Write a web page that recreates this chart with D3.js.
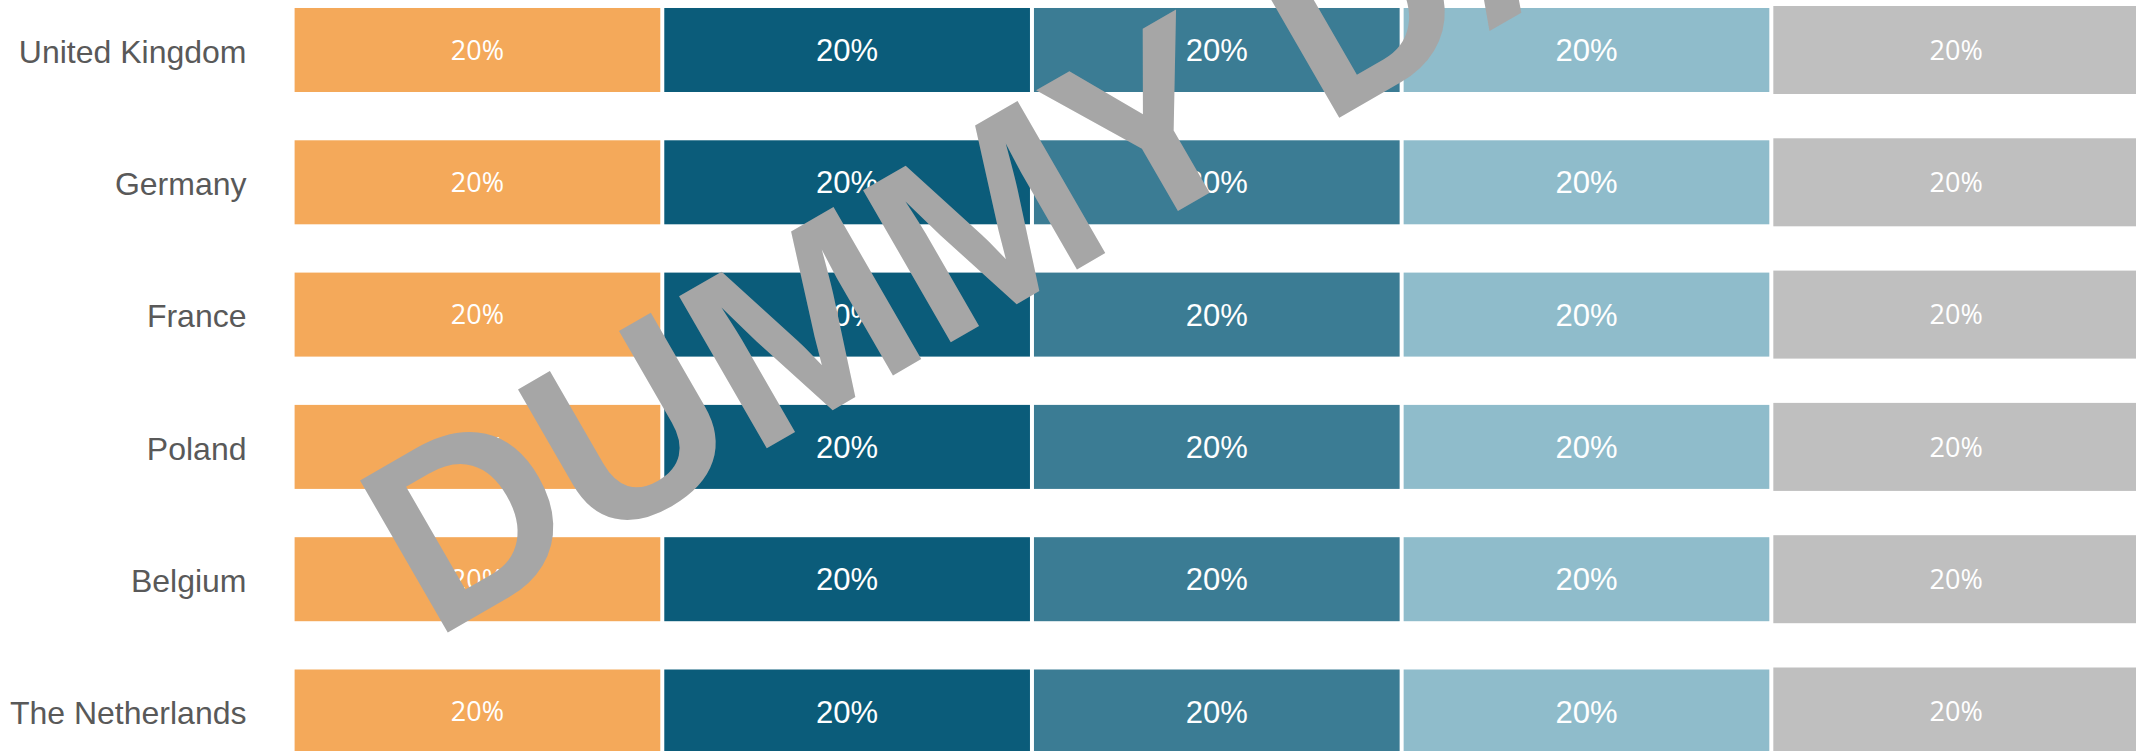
<!DOCTYPE html>
<html>
<head>
<meta charset="utf-8">
<script src="https://cdn.jsdelivr.net/npm/d3@7"></script>
<style>
  html, body { margin: 0; padding: 0; background: #ffffff; overflow: hidden; }
  svg { display: block; }
</style>
</head>
<body>
<svg id="chart" width="2136" height="751"></svg>
<script>
// Countries, top to bottom
const countries = ["United Kingdom", "Germany", "France", "Poland", "Belgium", "The Netherlands"];

// Share per segment (percent), one array per segment, in country order
const segment1 = [20, 20, 20, 20, 20, 20];
const segment2 = [20, 20, 20, 20, 20, 20];
const segment3 = [20, 20, 20, 20, 20, 20];
const segment4 = [20, 20, 20, 20, 20, 20];
const segment5 = [20, 20, 20, 20, 20, 20];

const seriesKeys = ["s1", "s2", "s3", "s4", "s5"];
const seriesValues = [segment1, segment2, segment3, segment4, segment5];
const seriesColors = ["#F4A95A", "#0B5C7A", "#3B7C94", "#8FBCCB", "#BFBFBF"];
const labelFonts = ["'Open Sans', sans-serif", "'Liberation Sans', Arial, sans-serif",
                    "'Liberation Sans', Arial, sans-serif", "'Liberation Sans', Arial, sans-serif",
                    "'Open Sans', sans-serif"];
const labelSizes = [27, 31, 31, 31, 27];
const barGrow = [0, 0, 0, 0, 2];

const watermarkText = "DUMMY DATA";

// Build a table for the stack layout
const table = countries.map((c, i) => {
  const row = { country: c };
  seriesKeys.forEach((k, j) => { row[k] = seriesValues[j][i]; });
  return row;
});

const svg = d3.select("#chart");

const x = d3.scaleLinear().domain([0, 100]).range([292.6, 2141]);
const y = d3.scaleBand()
  .domain(countries)
  .range([-31.7, 793.2])
  .paddingInner(0.365)
  .paddingOuter(0.3);

const stack = d3.stack().keys(seriesKeys);
const layers = stack(table);

const gap = 2;

const groups = svg.append("g").attr("class", "bars")
  .selectAll("g")
  .data(layers)
  .join("g")
  .attr("fill", (d, i) => seriesColors[i]);

groups.selectAll("rect")
  .data((d, i) => d.map(v => ({ v, i })))
  .join("rect")
  .attr("x", d => x(d.v[0]) + gap)
  .attr("y", d => y(d.v.data.country) - barGrow[d.i])
  .attr("width", d => x(d.v[1]) - x(d.v[0]) - 2 * gap)
  .attr("height", d => y.bandwidth() + 2 * barGrow[d.i]);

// Value labels inside each segment
const labelGroups = svg.append("g").attr("class", "values")
  .selectAll("g")
  .data(layers)
  .join("g");

labelGroups.selectAll("text")
  .data((d, i) => d.map(v => ({ v, i, key: d.key })))
  .join("text")
  .attr("x", d => (x(d.v[0]) + x(d.v[1])) / 2)
  .attr("y", d => y(d.v.data.country) + y.bandwidth() / 2)
  .attr("dy", "0.36em")
  .attr("text-anchor", "middle")
  .attr("fill", "#ffffff")
  .style("font-family", d => labelFonts[d.i])
  .style("font-size", d => labelSizes[d.i] + "px")
  .text(d => (d.v[1] - d.v[0]) + "%");

// Category axis (no line, no ticks)
const yAxis = d3.axisLeft(y).tickSize(0).tickPadding(0);
const axisG = svg.append("g")
  .attr("transform", "translate(246.5,0)")
  .call(yAxis);
axisG.select(".domain").remove();
axisG.selectAll("text")
  .attr("fill", "#595959")
  .attr("dy", "0.40em")
  .style("font-family", "'Liberation Sans', Arial, sans-serif")
  .style("font-size", "32px");

// Watermark across the chart
svg.append("text")
  .attr("transform", "translate(433,641) rotate(-30)")
  .attr("fill", "#A6A6A6")
  .style("font-family", "'Liberation Sans', Arial, sans-serif")
  .style("font-weight", "bold")
  .style("font-size", "255px")
  .text(watermarkText);
</script>
</body>
</html>
